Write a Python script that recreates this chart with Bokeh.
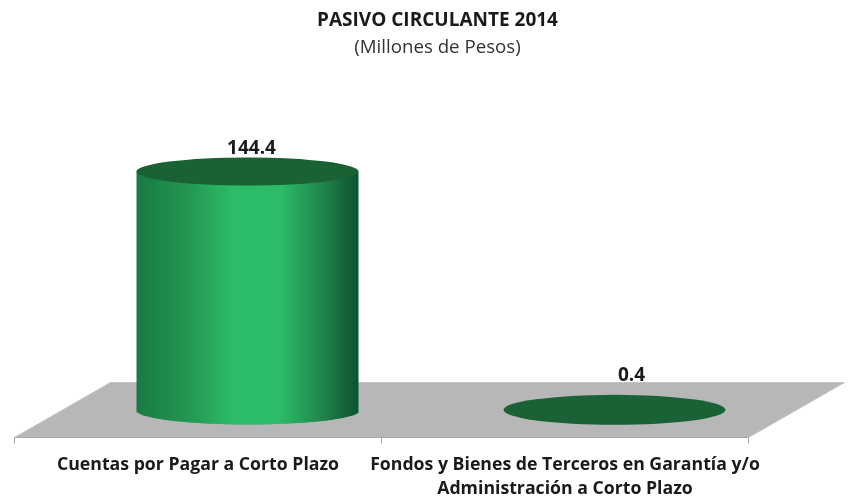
import numpy as np
from bokeh.embed import file_html
from bokeh.resources import INLINE
from bokeh.plotting import figure
from bokeh.models import FixedTicker, Label, ColumnDataSource
from bokeh.core.properties import value

categories = ["Cuentas por Pagar a Corto Plazo",
              "Fondos y Bienes de Terceros en Garantía y/o\nAdministración a Corto Plazo"]
values = [144.4, 0.4]
value_labels = ["144.4", "0.4"]
title_text = "PASIVO CIRCULANTE 2014"
subtitle_text = "(Millones de Pesos)"

W, H = 853, 498
FONT = "Open Sans"
px_x = 367.0      # px per category
px_y = 1.655      # px per value unit
left0 = 14        # px of category boundary 0
base_px = 410     # px of value 0
axis_px = 437     # px of axis line

y0 = -(axis_px - base_px) / px_y
y1 = base_px / px_y
x0 = -left0 / px_x
x1 = (W - left0) / px_x

p = figure(width=W, height=H, output_backend="svg", toolbar_location=None,
           x_range=(x0, x1), y_range=(y0, y1),
           frame_width=W, frame_height=axis_px,
           min_border_left=0, min_border_right=0, min_border_top=0,
           min_border_bottom=H - axis_px,
           styles={"position": "fixed", "left": "0px", "top": "0px"})
p.outline_line_color = None
p.grid.visible = False
p.yaxis.visible = False
p.background_fill_color = "white"

# Floor
depth_x = 96 / px_x
back = (base_px - 382) / px_y
p.patch([0, 2, 2 + depth_x, depth_x], [y0, y0, back, back],
        fill_color="#b7b7b7", line_color="#c4c4c4", line_width=1)

# Axis
ax = p.xaxis[0]
positions = [0.5, 1.5]
ax.ticker = FixedTicker(ticks=positions, minor_ticks=[0, 1, 2])
ax.major_label_overrides = {k: c for k, c in zip(positions, categories)}
ax.bounds = (0, 2)
ax.axis_line_color = "#a8a8a8"
ax.major_tick_line_color = None
ax.minor_tick_line_color = "#a8a8a8"
ax.minor_tick_out = 6
ax.minor_tick_in = 0
ax.major_label_standoff = 7
ax.major_label_text_font = FONT
ax.major_label_text_font_style = "bold"
ax.major_label_text_font_size = "17.7px"
ax.major_label_text_color = "#1a1a1a"
ax.major_label_text_line_height = 1.02

# Cylinders
shift = (247 - left0) / px_x - 0.5
bar_w = 222 / px_x
ell_h = 28 / px_y
top_color = "#1a6236"

def shade(u):
    stops_u = [-1.0, -0.6, -0.15, 0.3, 0.65, 0.88, 1.0]
    r = [27, 34, 45, 45, 33, 22, 12]
    g = [122, 146, 187, 187, 138, 100, 84]
    b = [68, 80, 103, 103, 78, 58, 50]
    return "#%02x%02x%02x" % (int(np.interp(u, stops_u, r)),
                              int(np.interp(u, stops_u, g)),
                              int(np.interp(u, stops_u, b)))

for i, v in enumerate(values):
    cx = positions[i] + shift
    if v > 5:
        n = 111
        edges = np.linspace(-1, 1, n + 1)
        mids = (edges[:-1] + edges[1:]) / 2
        src = ColumnDataSource(dict(
            left=cx + edges[:-1] * bar_w / 2,
            right=cx + np.minimum(edges[1:] + 0.012, 1) * bar_w / 2,
            bottom=-(ell_h / 2) * np.sqrt(np.clip(1 - mids ** 2, 0, 1)),
            top=[v] * n,
            color=[shade(u) for u in mids]))
        p.quad(left="left", right="right", bottom="bottom", top="top",
               fill_color="color", line_color=None, source=src)
    p.ellipse(x=[cx], y=[v], width=bar_w, height=ell_h * (1 if v > 5 else 1.07),
              fill_color=top_color, line_color=None)

# Value labels
lab_src = ColumnDataSource(dict(
    x=[positions[i] + shift + 4 / px_x if values[i] > 5 else positions[i] + shift + 17 / px_x
       for i in range(2)],
    y=[v + 25 / px_y if v > 5 else v + 36 / px_y for v in values],
    t=value_labels))
p.text(x="x", y="y", text="t", source=lab_src, text_align="center", text_baseline="middle",
       text_font=value(FONT), text_font_style="bold", text_font_size="19px",
       text_color="#1a1a1a")

# Titles (Label screen y counts up from the frame bottom)
p.add_layout(Label(x=437, y=axis_px - 18, x_units="screen", y_units="screen", text=title_text,
                   text_align="center", text_baseline="middle", text_font=FONT,
                   text_font_style="bold", text_font_size="19px", text_color="#1a1a1a"))
p.add_layout(Label(x=437, y=axis_px - 45, x_units="screen", y_units="screen", text=subtitle_text,
                   text_align="center", text_baseline="middle", text_font=FONT,
                   text_font_size="18.7px", text_color="#333333"))

open("out.html", "w").write(file_html(p, INLINE))
